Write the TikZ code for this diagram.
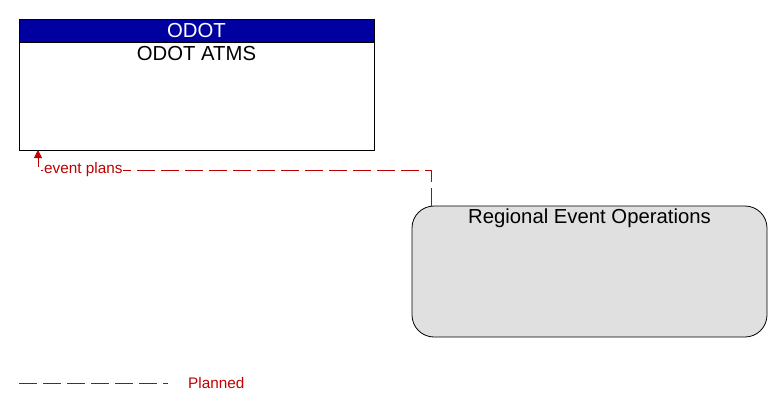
\documentclass[tikz,border=0pt]{standalone}
\usepackage{fontspec}
\setmainfont{Liberation Sans}
\usetikzlibrary{arrows.meta}
\definecolor{hdrblue}{RGB}{0,0,160}
\definecolor{flowred}{RGB}{192,0,0}
\definecolor{boxgray}{RGB}{224,224,224}
\tikzset{
  title/.style={font=\fontsize{20.3}{23}\selectfont, inner sep=0pt},
  flow/.style={draw=flowred, line width=0.8pt, dash pattern=on 18pt off 6pt},
  flowlabel/.style={font=\fontsize{15.3}{17}\selectfont, text=flowred, fill=white, inner sep=1pt}
}
\begin{document}
\begin{tikzpicture}[x=1pt,y=-1pt]
\useasboundingbox (0,0) rectangle (783,412);
% ODOT ATMS box
\draw[line width=0.8pt, fill=white] (19,19) rectangle (374,150);
\fill[hdrblue] (19,19) rectangle (374,42);
\draw[line width=0.8pt] (19,19) rectangle (374,150);
\draw[line width=0.8pt] (19,42) -- (374,42);
\node[title, text=white] (hdr) at (196.5,31) {ODOT};
\node[title] (atms) at (196.5,54) {ODOT ATMS};
\coordinate (atmsin) at (38,150);
% Regional Event Operations box
\draw[line width=0.8pt, fill=boxgray, rounded corners=22pt] (412,206) rectangle (767,337);
\node[title] (reo) at (589.5,218) {Regional Event Operations};
\coordinate (reoout) at (431,206);
% flow
\draw[flow, -{Triangle[length=8pt,width=8pt]}] (reoout) |- (38,170) -- (atmsin);
\node[flowlabel, anchor=west] (lbl) at (43,170) {event plans};
% legend
\coordinate (lega) at (19,383);
\coordinate (legb) at (168,383);
\draw[flow] (lega) -- (legb);
\node[flowlabel, anchor=west] (legt) at (187,383) {Planned};
\end{tikzpicture}
\end{document}
